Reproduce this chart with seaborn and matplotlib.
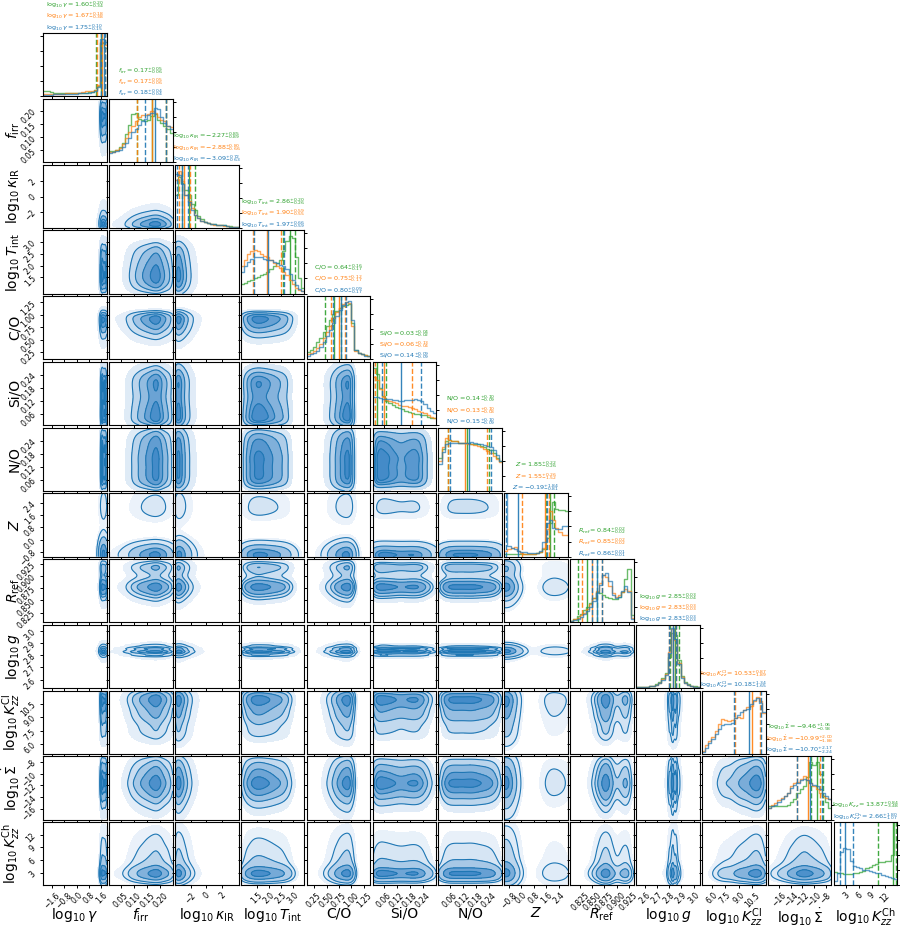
import numpy as np
import matplotlib
matplotlib.use("Agg")
import matplotlib.pyplot as plt
from matplotlib.colors import LinearSegmentedColormap
from matplotlib.ticker import MaxNLocator
import seaborn as sns

# parameter order of the corner plot
axis_labels = [r"$\log_{10}\gamma$", r"$f_{\rm irr}$", r"$\log_{10}\kappa_{\rm IR}$",
               r"$\log_{10}T_{\rm int}$", "C/O", "Si/O", "N/O", r"$Z$", r"$R_{\rm ref}$",
               r"$\log_{10}g$", r"$\log_{10}K_{zz}^{\rm Cl}$", r"$\log_{10}\dot{\Sigma}$",
               r"$\log_{10}K_{zz}^{\rm Ch}$"]
title_names = [r"\log_{10}\gamma", r"f_{\rm irr}", r"\log_{10}\kappa_{\rm IR}",
               r"\log_{10}T_{\rm int}", r"{\rm C/O}", r"{\rm Si/O}", r"{\rm N/O}", r"Z",
               r"R_{\rm ref}", r"\log_{10}g", r"\log_{10}K_{zz}^{\rm Cl}",
               r"\log_{10}\dot{\Sigma}", r"\log_{10}K_{zz}^{\rm Ch}"]
green_last_name = r"\log_{10}K_{zz}"

ranges = [(-2.15, 1.95), (0.005, 0.247), (-4.0, 4.1), (0.83, 3.47), (0.1, 1.38),
          (0.008, 0.30), (0.008, 0.30), (-1.1, 3.0), (0.805, 0.935), (2.53, 3.05),
          (4.9, 12.0), (-17.9, -7.0), (0.0, 15.0)]
ticks = [[-1.6, -0.8, 0.0, 0.8, 1.6], [0.05, 0.10, 0.15, 0.20], [-2, 0, 2],
         [1.5, 2.0, 2.5, 3.0], [0.25, 0.50, 0.75, 1.00, 1.25], [0.06, 0.12, 0.18, 0.24],
         [0.06, 0.12, 0.18, 0.24], [-0.8, 0.0, 0.8, 1.6, 2.4],
         [0.825, 0.850, 0.875, 0.900, 0.925], [2.6, 2.7, 2.8, 2.9, 3.0],
         [6.0, 7.5, 9.0, 10.5], [-16, -14, -12, -10, -8], [3, 6, 9, 12]]

# a few bins run above the top of their panel
green_hist = [
    [0.09, 0.08, 0.07, 0.06, 0.06, 0.05, 0.05, 0.05, 0.05, 0.05, 0.05, 0.05, 0.06, 0.06, 0.07, 0.07, 0.10, 0.17, 0.88, 0.80],
    [0.18, 0.18, 0.20, 0.25, 0.32, 0.47, 0.62, 0.80, 0.82, 0.72, 0.70, 0.68, 0.70, 0.76, 0.80, 0.70, 0.65, 0.60, 0.55, 0.48],
    [0.55, 0.85, 0.75, 0.62, 0.55, 0.40, 0.30, 0.20, 0.14, 0.10, 0.08, 0.07, 0.06, 0.05, 0.05, 0.04, 0.03, 0.03, 0.02, 0.02],
    [0.15, 0.18, 0.20, 0.22, 0.25, 0.28, 0.30, 0.32, 0.35, 0.40, 0.45, 0.50, 0.55, 0.70, 0.88, 0.95, 0.92, 0.60, 0.25, 0.10],
    [0.12, 0.15, 0.20, 0.28, 0.35, 0.45, 0.55, 0.65, 0.75, 0.80, 0.85, 0.88, 0.90, 0.92, 0.60, 0.15, 0.10, 0.08, 0.07, 0.06],
    [0.95, 0.85, 0.62, 0.48, 0.40, 0.36, 0.33, 0.30, 0.28, 0.26, 0.24, 0.22, 0.20, 0.19, 0.18, 0.17, 0.16, 0.14, 0.12, 0.11],
    [0.55, 0.70, 0.82, 0.84, 0.82, 0.82, 0.80, 0.80, 0.80, 0.79, 0.78, 0.78, 0.77, 0.75, 0.73, 0.70, 0.67, 0.62, 0.55, 0.50],
    [0.05, 0.05, 0.05, 0.05, 0.04, 0.04, 0.04, 0.04, 0.05, 0.05, 0.06, 0.08, 0.12, 0.30, 0.55, 0.90, 0.79, 0.78, 0.78, 0.76],
    [0.03, 0.06, 0.10, 0.14, 0.20, 0.26, 0.32, 0.40, 0.50, 0.48, 0.45, 0.42, 0.40, 0.38, 0.38, 0.42, 0.50, 0.72, 0.88, 0.12],
    [0.01, 0.01, 0.02, 0.02, 0.03, 0.04, 0.06, 0.10, 0.17, 0.25, 0.52, 0.92, 0.88, 0.47, 0.20, 0.10, 0.06, 0.04, 0.03, 0.02],
    None,
    [0.22, 0.22, 0.22, 0.22, 0.22, 0.23, 0.25, 0.30, 0.35, 0.45, 0.50, 0.55, 0.70, 0.95, 0.90, 0.95, 0.75, 0.40, 0.30, 0.20],
    [0.22, 0.20, 0.20, 0.19, 0.19, 0.19, 0.20, 0.20, 0.22, 0.24, 0.28, 0.30, 0.34, 0.36, 0.38, 0.38, 0.40, 0.40, 0.50, 4.00],
]
orange_hist = [
    [0.04, 0.04, 0.04, 0.04, 0.04, 0.04, 0.04, 0.05, 0.05, 0.05, 0.06, 0.06, 0.07, 0.08, 0.08, 0.09, 0.11, 0.18, 0.90, 0.85],
    [0.17, 0.17, 0.20, 0.24, 0.30, 0.40, 0.50, 0.60, 0.68, 0.75, 0.78, 0.78, 0.80, 0.85, 0.82, 0.75, 0.70, 0.68, 0.60, 0.58],
    [0.80, 0.95, 0.78, 0.55, 0.45, 0.33, 0.22, 0.16, 0.12, 0.10, 0.08, 0.06, 0.05, 0.05, 0.04, 0.03, 0.03, 0.02, 0.02, 0.01],
    [0.45, 0.55, 0.65, 0.70, 0.72, 0.70, 0.66, 0.62, 0.60, 0.56, 0.50, 0.45, 0.42, 0.35, 0.30, 0.22, 0.15, 0.10, 0.06, 0.04],
    [0.08, 0.10, 0.13, 0.18, 0.25, 0.35, 0.45, 0.55, 0.68, 0.78, 0.85, 0.92, 0.95, 0.93, 0.55, 0.14, 0.10, 0.08, 0.07, 0.05],
    [0.80, 0.75, 0.60, 0.47, 0.42, 0.40, 0.38, 0.36, 0.34, 0.32, 0.31, 0.30, 0.28, 0.26, 0.24, 0.22, 0.20, 0.16, 0.14, 0.12],
    [0.50, 0.72, 0.88, 0.85, 0.83, 0.82, 0.80, 0.80, 0.79, 0.78, 0.77, 0.76, 0.74, 0.72, 0.70, 0.66, 0.62, 0.58, 0.52, 0.48],
    [0.10, 0.12, 0.14, 0.16, 0.10, 0.06, 0.05, 0.05, 0.05, 0.05, 0.06, 0.08, 0.15, 0.45, 0.75, 0.60, 0.47, 0.40, 0.36, 0.35],
    [0.03, 0.05, 0.08, 0.12, 0.16, 0.22, 0.30, 0.40, 0.52, 0.65, 0.78, 0.75, 0.60, 0.48, 0.42, 0.45, 0.50, 0.55, 0.52, 0.08],
    [0.01, 0.01, 0.02, 0.02, 0.03, 0.04, 0.05, 0.09, 0.15, 0.24, 0.60, 0.98, 0.80, 0.42, 0.18, 0.09, 0.05, 0.03, 0.02, 0.02],
    [0.05, 0.15, 0.22, 0.28, 0.38, 0.50, 0.58, 0.57, 0.55, 0.56, 0.60, 0.62, 0.60, 0.72, 0.78, 0.80, 0.88, 0.95, 0.88, 0.68],
    [0.20, 0.25, 0.28, 0.32, 0.36, 0.40, 0.45, 0.55, 0.60, 0.62, 0.68, 0.72, 0.66, 0.60, 0.55, 0.50, 0.45, 0.40, 0.36, 0.34],
    None,
]
blue_hist = [
    [0.02, 0.02, 0.02, 0.03, 0.03, 0.03, 0.03, 0.03, 0.04, 0.04, 0.04, 0.05, 0.05, 0.06, 0.06, 0.07, 0.09, 0.16, 0.95, 0.90],
    [0.15, 0.16, 0.18, 0.20, 0.25, 0.32, 0.40, 0.50, 0.55, 0.62, 0.68, 0.72, 0.78, 0.82, 0.90, 0.88, 0.75, 0.65, 0.60, 0.55],
    [0.90, 0.88, 0.72, 0.55, 0.42, 0.30, 0.22, 0.16, 0.12, 0.09, 0.08, 0.07, 0.06, 0.05, 0.04, 0.04, 0.03, 0.02, 0.02, 0.02],
    [0.35, 0.45, 0.52, 0.57, 0.60, 0.60, 0.60, 0.58, 0.56, 0.55, 0.52, 0.50, 0.48, 0.45, 0.40, 0.32, 0.22, 0.14, 0.08, 0.05],
    [0.06, 0.08, 0.10, 0.14, 0.20, 0.28, 0.38, 0.48, 0.60, 0.72, 0.82, 0.90, 0.95, 0.96, 0.65, 0.15, 0.10, 0.08, 0.06, 0.05],
    [0.46, 0.46, 0.45, 0.44, 0.44, 0.43, 0.42, 0.41, 0.40, 0.40, 0.41, 0.42, 0.42, 0.43, 0.42, 0.40, 0.35, 0.28, 0.24, 0.20],
    [0.45, 0.65, 0.78, 0.80, 0.80, 0.80, 0.80, 0.79, 0.80, 0.80, 0.81, 0.80, 0.78, 0.77, 0.76, 0.75, 0.72, 0.68, 0.60, 0.50],
    [3.50, 0.18, 0.15, 0.12, 0.10, 0.08, 0.07, 0.06, 0.06, 0.06, 0.06, 0.10, 0.25, 0.55, 0.60, 0.48, 0.45, 0.45, 0.50, 0.50],
    [0.02, 0.04, 0.06, 0.09, 0.13, 0.18, 0.25, 0.35, 0.48, 0.62, 0.78, 0.82, 0.68, 0.45, 0.40, 0.42, 0.52, 0.60, 0.50, 0.06],
    [0.01, 0.01, 0.01, 0.02, 0.03, 0.04, 0.05, 0.08, 0.14, 0.22, 0.58, 1.00, 0.82, 0.40, 0.17, 0.08, 0.05, 0.03, 0.02, 0.01],
    [0.03, 0.10, 0.18, 0.25, 0.33, 0.42, 0.48, 0.50, 0.50, 0.52, 0.60, 0.65, 0.70, 0.72, 0.75, 0.82, 0.90, 0.92, 0.85, 0.70],
    [0.20, 0.22, 0.25, 0.30, 0.35, 0.40, 0.45, 0.52, 0.57, 0.60, 0.65, 0.68, 0.65, 0.60, 0.58, 0.55, 0.50, 0.45, 0.40, 0.35],
    [0.08, 0.20, 0.55, 0.62, 0.60, 0.40, 0.32, 0.30, 0.28, 0.26, 0.25, 0.24, 0.22, 0.20, 0.20, 0.18, 0.16, 0.14, 0.12, 0.10],
]

# medians and 1-sigma errors given in the panel titles
green_med = [1.60, 0.17, -2.27, 2.86, 0.64, 0.03, 0.14, 1.85, 0.84, 2.85, None, -9.46, 13.87]
green_up = [0.20, 0.05, 0.85, 0.20, 0.16, 0.04, 0.10, 0.22, 0.02, 0.03, None, 1.06, 0.84]
green_lo = [0.34, 0.06, 0.89, 0.26, 0.17, 0.02, 0.09, 0.26, 0.02, 0.04, None, 0.98, 3.48]
orange_med = [1.67, 0.17, -2.88, 1.90, 0.75, 0.06, 0.13, 1.55, 0.85, 2.83, 10.53, -10.99, None]
orange_up = [0.18, 0.05, 0.80, 0.59, 0.12, 0.13, 0.10, 0.26, 0.02, 0.03, 0.87, 2.00, None]
orange_lo = [0.38, 0.06, 0.66, 0.55, 0.17, 0.04, 0.08, 1.52, 0.02, 0.03, 1.89, 1.88, None]
blue_med = [1.75, 0.18, -3.09, 1.97, 0.80, 0.14, 0.15, -0.19, 0.86, 2.83, 10.18, -10.70, 2.66]
blue_up = [0.10, 0.04, 0.72, 0.66, 0.09, 0.09, 0.10, 1.84, 0.01, 0.03, 1.34, 2.17, 1.80]
blue_lo = [0.15, 0.04, 0.63, 0.59, 0.17, 0.09, 0.09, 0.81, 0.01, 0.03, 1.65, 2.24, 1.07]

GREEN, ORANGE, BLUE = "#2ca02c", "#ff7f0e", "#1f77b4"
series = [
    (green_hist, green_med, green_up, green_lo, GREEN),
    (orange_hist, orange_med, orange_up, orange_lo, ORANGE),
    (blue_hist, blue_med, blue_up, blue_lo, BLUE),
]

n = len(axis_labels)
fill_levels = [0.04, 0.135, 0.325, 0.607, 0.882, 1.0]
line_levels = [0.135, 0.325, 0.607, 0.882]
density_cmap = LinearSegmentedColormap.from_list("post", ["#eef4fb", "#3c86c6"])
sharpen = 2  # joint weights from the squared blue marginals


def bin_centers(i, nbins):
    edges = np.linspace(ranges[i][0], ranges[i][1], nbins + 1)
    return 0.5 * (edges[1:] + edges[:-1])


fig, axes = plt.subplots(n, n, figsize=(9, 9.3), dpi=100)
fig.subplots_adjust(left=0.048, right=0.997, bottom=0.048, top=0.9645,
                    wspace=0.035, hspace=0.04)

for row in range(n):
    for col in range(n):
        ax = axes[row, col]
        if col > row:
            ax.set_axis_off()
            continue

        if row == col:
            # diagonal: overlaid step histograms + median / quantile lines
            for hists, med, up, lo, c in series:
                h = hists[col]
                if h is None:
                    continue
                centers = bin_centers(col, len(h))
                sns.histplot(x=list(centers), weights=list(h), bins=len(h),
                             binrange=ranges[col], element="step", fill=False,
                             color=c, alpha=0.7, linewidth=1.0, ax=ax)
                ax.axvline(med[col], color=c, lw=1.0, alpha=0.9)
                ax.axvline(med[col] - lo[col], color=c, lw=1.0, ls="--", alpha=0.9)
                ax.axvline(med[col] + up[col], color=c, lw=1.0, ls="--", alpha=0.9)
            # stacked titles, blue at the bottom
            k = 0
            for hists, med, up, lo, c in series[::-1]:
                if med[col] is None:
                    continue
                name = title_names[col]
                if c == GREEN and col == n - 1:
                    name = green_last_name
                txt = rf"${name} = {med[col]:.2f}^{{+{up[col]:.2f}}}_{{-{lo[col]:.2f}}}$"
                ax.annotate(txt, xy=(0.5, 1.0), xycoords="axes fraction",
                            xytext=(0, 4.2 + 8.2 * k), textcoords="offset points",
                            ha="center", va="center", fontsize=4.6, color=c)
                k += 1
            ax.set_ylim(0, 1.05)
            ax.yaxis.set_major_locator(MaxNLocator(5))
            if col == 0:
                ax.tick_params(axis="y", labelleft=False)
            else:
                ax.yaxis.tick_right()
                ax.tick_params(axis="y", labelright=False)
            ax.set_ylabel("")
        else:
            # lower triangle: 2D density of the blue posterior
            xc = bin_centers(col, len(blue_hist[col]))
            yc = bin_centers(row, len(blue_hist[row]))
            X, Y = np.meshgrid(xc, yc)
            W = np.outer(np.power(blue_hist[row], sharpen), np.power(blue_hist[col], sharpen))
            clip = (ranges[col], ranges[row])
            sns.kdeplot(x=X.ravel(), y=Y.ravel(), weights=W.ravel(), fill=True,
                        levels=fill_levels, cmap=density_cmap, clip=clip,
                        bw_adjust=0.6, gridsize=70, ax=ax)
            sns.kdeplot(x=X.ravel(), y=Y.ravel(), weights=W.ravel(), fill=False,
                        levels=line_levels, color=BLUE, linewidths=0.8, clip=clip,
                        bw_adjust=0.6, gridsize=70, ax=ax)
            ax.set_ylim(*ranges[row])
            ax.set_yticks(ticks[row])
            if col == 0:
                ax.set_ylabel(axis_labels[row], fontsize=10)
                ax.yaxis.set_label_coords(-0.34, 0.5)
            else:
                ax.tick_params(axis="y", labelleft=False)
                ax.set_ylabel("")

        ax.set_xlim(*ranges[col])
        ax.set_xticks(ticks[col])
        ax.tick_params(labelsize=5.5, length=2.5, width=0.7, pad=1.5)
        for lab in ax.get_xticklabels() + ax.get_yticklabels():
            lab.set_rotation(45)
        if row == n - 1:
            ax.set_xlabel(axis_labels[col], fontsize=10)
            ax.xaxis.set_label_coords(0.5, -0.33)
        else:
            ax.tick_params(axis="x", labelbottom=False)
            ax.set_xlabel("")

fig.savefig("out.png", dpi=100)
